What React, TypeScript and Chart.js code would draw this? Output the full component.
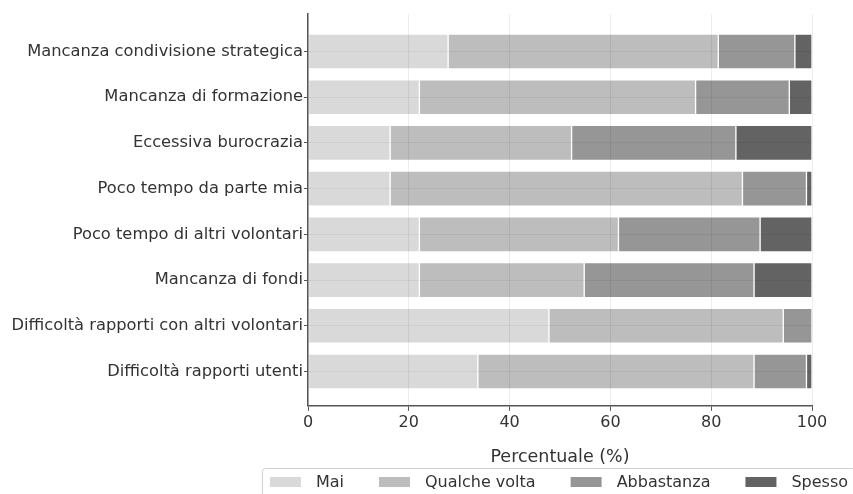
import React, { useEffect, useRef } from "react";
import { Chart, registerables } from "chart.js";

Chart.register(...registerables);

const categories = [
  "Mancanza condivisione strategica",
  "Mancanza di formazione",
  "Eccessiva burocrazia",
  "Poco tempo da parte mia",
  "Poco tempo di altri volontari",
  "Mancanza di fondi",
  "Difficoltà rapporti con altri volontari",
  "Difficoltà rapporti utenti",
];
const seriesNames = ["Mai", "Qualche volta", "Abbastanza", "Spesso"];
const mai = [27.8, 22.1, 16.3, 16.3, 22.1, 22.1, 47.8, 33.7];
const qualcheVolta = [53.6, 54.8, 36.0, 69.9, 39.5, 32.7, 46.5, 54.8];
const abbastanza = [15.2, 18.6, 32.6, 12.7, 28.1, 33.7, 5.7, 10.4];
const spesso = [3.4, 4.5, 15.1, 1.1, 10.3, 11.5, 0, 1.1];
const seriesColors = ["#d9d9d9", "#bdbdbd", "#969696", "#636363"];
const xTicks = [0, 20, 40, 60, 80, 100];
const xTitle = "Percentuale (%)";

const FONT = "'DejaVu Sans', sans-serif";
const TEXT = "#333333";
const AXIS = "#555555";

const boxLegend = {
  id: "boxLegend",
  afterDraw(chart: any) {
    const ctx = chart.ctx as CanvasRenderingContext2D;
    const area = chart.chartArea;
    ctx.save();
    ctx.font = `16px ${FONT}`;
    const sw = 31, sh = 10, gapText = 15, gapItem = 35;
    const items = chart.data.datasets.map((ds: any) => ({
      label: ds.label as string,
      color: ds.backgroundColor as string,
      w: ctx.measureText(ds.label).width,
    }));
    const total =
      items.reduce((s: number, it: any) => s + sw + gapText + it.w, 0) +
      gapItem * (items.length - 1);
    let x = (area.left + area.right) / 2 - total / 2 - 1;
    const cy = chart.height - 12;
    ctx.strokeStyle = "#cfcfcf";
    ctx.lineWidth = 1;
    ctx.fillStyle = "rgba(255,255,255,0.8)";
    ctx.beginPath();
    (ctx as any).roundRect(x - 7.5, cy - 13.5, total + 15, 40, 3);
    ctx.fill();
    ctx.stroke();
    ctx.textBaseline = "middle";
    ctx.textAlign = "left";
    for (const it of items) {
      ctx.fillStyle = it.color;
      ctx.fillRect(x, cy - sh / 2, sw, sh);
      ctx.fillStyle = TEXT;
      ctx.fillText(it.label, x + sw + gapText, cy + 1);
      x += sw + gapText + it.w + gapItem;
    }
    ctx.restore();
  },
};

export default function App() {
  const ref = useRef<HTMLCanvasElement | null>(null);

  useEffect(() => {
    if (!ref.current) return;
    const seriesValues = [mai, qualcheVolta, abbastanza, spesso];
    const chart = new Chart(ref.current, {
      type: "bar",
      data: {
        datasets: seriesValues.map((vals, si) => ({
          label: seriesNames[si],
          data: vals.map((v, i) => ({ x: v, y: i })),
          backgroundColor: seriesColors[si],
          borderColor: "#ffffff",
          borderWidth: 1,
          borderSkipped: false,
          barThickness: 35,
        })),
      },
      options: {
        indexAxis: "y",
        animation: false,
        responsive: true,
        maintainAspectRatio: false,
        layout: { padding: { top: 14, right: 41, bottom: 25, left: 0 } },
        plugins: {
          legend: { display: false },
          tooltip: { enabled: false },
        },
        scales: {
          x: {
            type: "linear",
            stacked: true,
            min: 0,
            max: 100,
            offset: false,
            afterBuildTicks: (scale: any) => {
              scale.ticks = xTicks.map((v) => ({ value: v }));
            },
            ticks: {
              font: { family: FONT, size: 16 },
              color: TEXT,
              padding: 2,
              maxRotation: 0,
            },
            grid: {
              color: "rgba(0,0,0,0.07)",
              z: 1,
              offset: false,
              tickLength: 5,
              tickColor: AXIS,
            },
            border: { display: true, color: AXIS, width: 1.5, z: 2 },
            title: {
              display: true,
              text: xTitle,
              font: { family: FONT, size: 17.5 },
              color: TEXT,
              padding: { top: 13, bottom: 1 },
            },
          },
          y: {
            type: "linear",
            stacked: true,
            reverse: true,
            offset: false,
            min: -0.82,
            max: 7.75,
            afterBuildTicks: (scale: any) => {
              scale.ticks = categories.map((_, i) => ({ value: i }));
            },
            afterFit: (scale: any) => {
              scale.width = 308;
            },
            ticks: {
              font: { family: FONT, size: 16.3 },
              color: TEXT,
              padding: 1,
              callback: (v: any) => categories[Math.round(Number(v))] ?? "",
            },
            grid: {
              color: "rgba(0,0,0,0.05)",
              z: 1,
              offset: false,
              tickLength: 4,
              tickColor: AXIS,
            },
            border: { display: true, color: AXIS, width: 1.5, z: 2 },
          },
        },
      },
      plugins: [boxLegend],
    });
    return () => chart.destroy();
  }, []);

  return (
    <div
      style={{
        position: "absolute",
        left: 0,
        top: 0,
        width: 853,
        height: 494,
        background: "#ffffff",
        overflow: "hidden",
      }}
    >
      <canvas ref={ref} />
    </div>
  );
}
